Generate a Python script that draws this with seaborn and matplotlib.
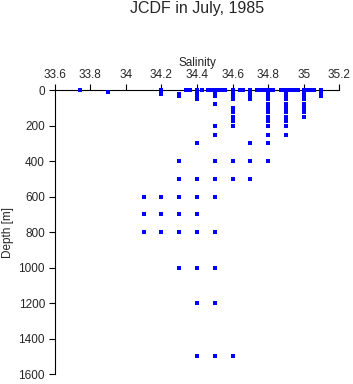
import pandas as pd
import matplotlib
matplotlib.use("Agg")
import matplotlib.pyplot as plt
from matplotlib.ticker import FuncFormatter
import seaborn as sns

# Salinity readings at each sampled depth (m)
depths = [0, 10, 20, 30, 50, 75, 100, 125, 150, 175, 200, 250, 300,
          400, 500, 600, 700, 800, 1000, 1200, 1500]

sal_0 = [33.74, 34.2, 34.34, 34.36, 34.4, 34.43, 34.46, 34.47, 34.48, 34.49,
         34.5, 34.51, 34.52, 34.53, 34.54, 34.55, 34.56, 34.6, 34.64, 34.66,
         34.7, 34.74, 34.76, 34.77, 34.78, 34.79, 34.8, 34.81, 34.82, 34.83,
         34.87, 34.88, 34.89, 34.9, 34.91, 34.92, 34.94, 34.95, 34.97, 35.0,
         35.01, 35.02, 35.03, 35.04, 35.05, 35.06, 35.1]
sal_10 = [33.9, 34.2, 34.4, 34.5, 34.6, 34.7, 34.8, 34.9, 35.0, 35.1]
sal_20 = [34.2, 34.3, 34.4, 34.5, 34.6, 34.7, 34.8, 34.9, 35.0, 35.1]
sal_30 = [34.3, 34.4, 34.5, 34.6, 34.7, 34.8, 34.9, 35.0, 35.1]
sal_50 = [34.4, 34.6, 34.7, 34.8, 34.9, 35.0]
sal_75 = [34.5, 34.8, 34.9, 35.0]
sal_100 = [34.6, 34.8, 34.9, 35.0]
sal_125 = [34.6, 34.8, 34.9, 35.0]
sal_150 = [34.6, 34.8, 34.9, 35.0]
sal_175 = [34.6, 34.8, 34.9]
sal_200 = [34.5, 34.6, 34.8, 34.9]
sal_250 = [34.5, 34.8, 34.9]
sal_300 = [34.4, 34.7, 34.8]
sal_400 = [34.3, 34.5, 34.6, 34.7, 34.8]
sal_500 = [34.3, 34.4, 34.5, 34.6, 34.7]
sal_600 = [34.1, 34.2, 34.3, 34.4, 34.5]
sal_700 = [34.1, 34.2, 34.3, 34.4]
sal_800 = [34.1, 34.2, 34.3, 34.4, 34.5]
sal_1000 = [34.3, 34.4, 34.5]
sal_1200 = [34.4, 34.5]
sal_1500 = [34.4, 34.5, 34.6]

x_ticks = [33.6, 33.8, 34.0, 34.2, 34.4, 34.6, 34.8, 35.0, 35.2]
y_ticks = [0, 200, 400, 600, 800, 1000, 1200, 1400, 1600]

salinity_by_depth = [sal_0, sal_10, sal_20, sal_30, sal_50, sal_75, sal_100,
                     sal_125, sal_150, sal_175, sal_200, sal_250, sal_300,
                     sal_400, sal_500, sal_600, sal_700, sal_800, sal_1000,
                     sal_1200, sal_1500]

rows = []
for d, sals in zip(depths, salinity_by_depth):
    for s in sals:
        rows.append({"salinity": s, "depth": d})
df = pd.DataFrame(rows)

sns.set_style("ticks")
plt.rcParams['font.family'] = ['Liberation Sans', 'DejaVu Sans']

fig = plt.figure(figsize=(3.53, 3.84), dpi=100)
ax = fig.add_axes([0.155, 0.026, 0.806, 0.739])

sns.scatterplot(data=df, x="salinity", y="depth", ax=ax, color="#0000ff",
                marker="s", s=5, linewidth=0, zorder=3, clip_on=False)

ax.set_xlim(33.6, 35.2)
ax.set_ylim(1600, 0)
ax.set_xticks(x_ticks)
ax.set_yticks(y_ticks)
ax.xaxis.set_major_formatter(FuncFormatter(lambda v, p: f"{v:g}"))
ax.xaxis.tick_top()
ax.xaxis.set_label_position("top")

for side in ["bottom", "right"]:
    ax.spines[side].set_visible(False)
for side in ["top", "left"]:
    ax.spines[side].set_linewidth(0.8)
    ax.spines[side].set_color("black")

ax.tick_params(axis="both", direction="out", length=4, width=0.8,
               color="black", labelsize=8.5, pad=3)
ax.set_xlabel("Salinity", fontsize=8.5, labelpad=2)
ax.set_ylabel("Depth [m]", fontsize=8.5, labelpad=3)

fig.text(0.557, 0.978, "JCDF in July, 1985", ha="center", va="center",
         fontsize=11.5)

fig.savefig("out.png", dpi=100, facecolor="white")
